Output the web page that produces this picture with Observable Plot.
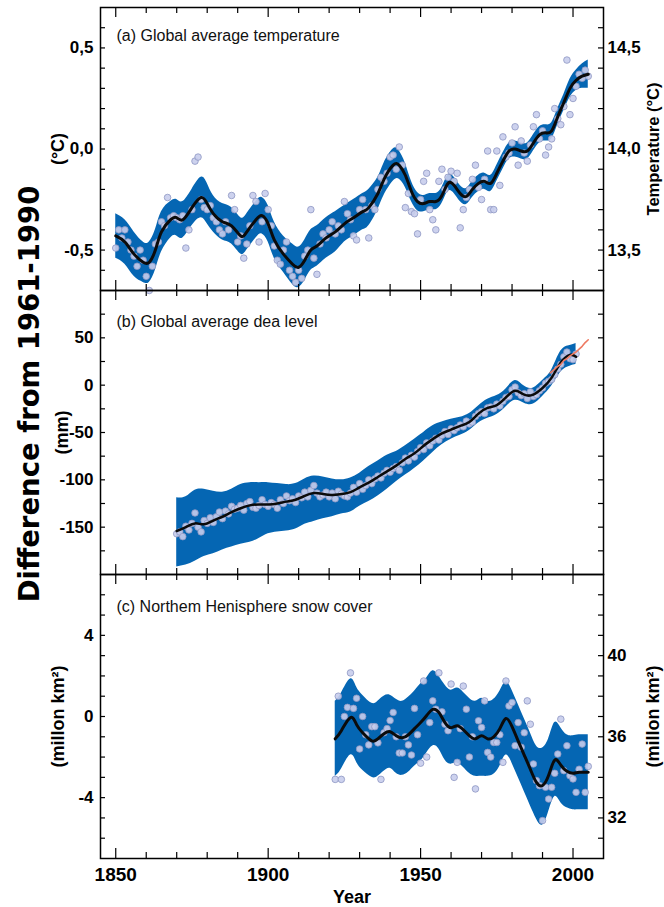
<!DOCTYPE html>
<html>
<head>
<meta charset="utf-8">
<script src="https://cdn.jsdelivr.net/npm/d3@7"></script>
<script src="https://cdn.jsdelivr.net/npm/@observablehq/plot@0.6"></script>
<style>
  html, body { margin: 0; padding: 0; background: #fff; }
  #chart { position: relative; width: 664px; height: 907px; overflow: hidden; }
  .pane { position: absolute; left: 0; }
  #big { position: absolute; left: 29px; top: 394px; transform: translate(-50%, -50%) rotate(-90deg);
         font: bold 27.5px "DejaVu Sans", sans-serif; white-space: nowrap; color: #000; }
</style>
</head>
<body>
<div id="chart">
  <div class="pane" id="pa" style="top:0px"></div>
  <div class="pane" id="pb" style="top:290px"></div>
  <div class="pane" id="pc" style="top:574px"></div>
  <div id="big">Difference from 1961-1990</div>
</div>
<script>
// ---------------- DATA ----------------
const yearTicks = [1850,1860,1870,1880,1890,1900,1910,1920,1930,1940,1950,1960,1970,1980,1990,2000];
const yearMajor = [1850,1900,1950,2000];

// (a) Global average temperature anomaly (°C)
const tempYears = [1850,1851,1852,1853,1854,1855,1856,1857,1858,1859,1860,1861,1862,1863,1864,1865,1866,1867,1868,1869,1870,1871,1872,1873,1874,1875,1876,1877,1878,1879,1880,1881,1882,1883,1884,1885,1886,1887,1888,1889,1890,1891,1892,1893,1894,1895,1896,1897,1898,1899,1900,1901,1902,1903,1904,1905,1906,1907,1908,1909,1910,1911,1912,1913,1914,1915,1916,1917,1918,1919,1920,1921,1922,1923,1924,1925,1926,1927,1928,1929,1930,1931,1932,1933,1934,1935,1936,1937,1938,1939,1940,1941,1942,1943,1944,1945,1946,1947,1948,1949,1950,1951,1952,1953,1954,1955,1956,1957,1958,1959,1960,1961,1962,1963,1964,1965,1966,1967,1968,1969,1970,1971,1972,1973,1974,1975,1976,1977,1978,1979,1980,1981,1982,1983,1984,1985,1986,1987,1988,1989,1990,1991,1992,1993,1994,1995,1996,1997,1998,1999,2000,2001,2002,2003,2004,2005];
const tempValues = [-0.49,-0.40,-0.44,-0.40,-0.46,-0.50,-0.53,-0.58,-0.50,-0.55,-0.63,-0.70,-0.58,-0.47,-0.46,-0.36,-0.38,-0.24,-0.34,-0.33,-0.34,-0.35,-0.33,-0.49,-0.40,-0.30,-0.06,-0.04,-0.25,-0.29,-0.30,-0.28,-0.34,-0.36,-0.40,-0.42,-0.36,-0.40,-0.23,-0.30,-0.46,-0.43,-0.54,-0.47,-0.38,-0.23,-0.26,-0.46,-0.36,-0.22,-0.30,-0.38,-0.48,-0.55,-0.57,-0.50,-0.46,-0.60,-0.63,-0.66,-0.60,-0.64,-0.53,-0.50,-0.30,-0.54,-0.62,-0.47,-0.42,-0.44,-0.40,-0.36,-0.42,-0.38,-0.40,-0.26,-0.32,-0.35,-0.43,-0.45,-0.30,-0.25,-0.30,-0.44,-0.28,-0.30,-0.20,-0.14,-0.16,-0.12,-0.04,-0.03,-0.10,0.01,-0.08,-0.29,-0.22,-0.31,-0.32,-0.42,-0.25,-0.16,-0.12,-0.30,-0.35,-0.40,-0.16,-0.10,-0.20,-0.14,-0.11,-0.16,-0.12,-0.39,-0.30,-0.24,-0.20,-0.15,-0.08,-0.19,-0.25,-0.15,-0.01,-0.30,-0.30,-0.01,-0.18,0.06,-0.04,-0.02,0.03,0.11,-0.08,0.04,-0.02,-0.06,0.02,0.11,0.17,0.05,0.09,-0.03,0.01,0.05,0.20,0.15,0.12,0.21,0.44,0.17,0.25,0.31,0.37,0.35,0.39,0.36];
const tempCurveYears = [1850,1853,1856,1859,1861,1863,1865,1868,1870,1872,1875,1878,1880,1882,1885,1888,1891,1893,1896,1898,1900,1902,1905,1908,1910,1912,1914,1916,1919,1922,1925,1928,1931,1933,1936,1938,1941,1943,1945,1947,1949,1951,1953,1955,1957,1959,1961,1963,1965,1967,1969,1971,1973,1975,1977,1979,1981,1983,1985,1987,1989,1991,1993,1995,1997,1999,2001,2003,2005];
const tempCurve = [-0.43,-0.46,-0.52,-0.56,-0.56,-0.50,-0.41,-0.35,-0.34,-0.35,-0.29,-0.24,-0.27,-0.32,-0.36,-0.38,-0.43,-0.41,-0.35,-0.33,-0.37,-0.45,-0.52,-0.57,-0.585,-0.55,-0.50,-0.48,-0.44,-0.41,-0.37,-0.34,-0.31,-0.29,-0.22,-0.15,-0.08,-0.08,-0.13,-0.21,-0.26,-0.27,-0.26,-0.26,-0.23,-0.17,-0.18,-0.22,-0.235,-0.20,-0.17,-0.16,-0.17,-0.12,-0.06,-0.01,0.00,-0.01,-0.01,0.03,0.07,0.08,0.09,0.16,0.23,0.30,0.34,0.36,0.37];
const tempHalfWidth = [0.11,0.11,0.11,0.10,0.10,0.10,0.10,0.09,0.09,0.09,0.09,0.10,0.10,0.09,0.09,0.09,0.09,0.09,0.09,0.09,0.09,0.09,0.09,0.10,0.10,0.10,0.10,0.10,0.10,0.10,0.09,0.09,0.09,0.09,0.08,0.08,0.08,0.07,0.06,0.05,0.045,0.04,0.04,0.04,0.04,0.04,0.04,0.04,0.04,0.04,0.04,0.04,0.04,0.04,0.04,0.04,0.04,0.04,0.04,0.04,0.04,0.04,0.04,0.04,0.04,0.045,0.05,0.06,0.07];
const tempTicks = [-0.6,-0.5,-0.4,-0.3,-0.2,-0.1,0,0.1,0.2,0.3,0.4,0.5,0.6];
const tempLabels = [-0.5,0,0.5];
const tempAbsLabels = [13.5,14.0,14.5];
const tempOffset = 14;

// (b) Global average sea level (mm)
const seaYears = [1870,1871,1872,1873,1874,1875,1876,1877,1878,1879,1880,1881,1882,1883,1884,1885,1886,1887,1888,1889,1890,1891,1892,1893,1894,1895,1896,1897,1898,1899,1900,1901,1902,1903,1904,1905,1906,1907,1908,1909,1910,1911,1912,1913,1914,1915,1916,1917,1918,1919,1920,1921,1922,1923,1924,1925,1926,1927,1928,1929,1930,1931,1932,1933,1934,1935,1936,1937,1938,1939,1940,1941,1942,1943,1944,1945,1946,1947,1948,1949,1950,1951,1952,1953,1954,1955,1956,1957,1958,1959,1960,1961,1962,1963,1964,1965,1966,1967,1968,1969,1970,1971,1972,1973,1974,1975,1976,1977,1978,1979,1980,1981,1982,1983,1984,1985,1986,1987,1988,1989,1990,1991,1992,1993,1994,1995,1996,1997,1998,1999,2000,2001];
const seaValues = [-157,-155,-160,-149,-153,-146,-135,-150,-155,-143,-146,-140,-145,-139,-134,-141,-133,-136,-128,-131,-130,-127,-132,-125,-123,-129,-130,-127,-121,-126,-128,-124,-126,-130,-121,-125,-117,-122,-120,-124,-117,-119,-113,-118,-111,-106,-114,-118,-116,-113,-118,-114,-120,-112,-115,-117,-118,-114,-108,-113,-104,-110,-106,-100,-104,-99,-96,-98,-93,-90,-92,-88,-86,-90,-82,-77,-80,-74,-76,-70,-66,-68,-61,-64,-59,-56,-58,-53,-49,-52,-46,-48,-45,-42,-44,-38,-41,-39,-33,-30,-28,-30,-24,-23,-25,-20,-22,-17,-13,-12,-5,-2,-8,-11,-9,-14,-7,-12,-10,-6,-3,2,4,6,11,17,22,30,35,28,27,33];
const seaCurveYears = [1870,1873,1876,1879,1882,1885,1888,1891,1894,1897,1900,1903,1906,1909,1912,1915,1918,1921,1924,1927,1930,1933,1936,1939,1942,1945,1948,1951,1954,1957,1960,1963,1966,1969,1972,1975,1978,1981,1984,1987,1990,1993,1996,1999,2001];
const seaCurve = [-154,-150,-146,-147,-143,-139,-134,-130,-127,-126,-126,-125,-123,-121,-117,-114,-115,-116,-115,-113,-108,-103,-97,-91,-85,-78,-72,-64,-57,-51,-47,-43,-39,-30,-24,-21,-13,-6,-10,-10,-3,8,24,32,30];
const seaLow = [-192,-190,-186,-181,-178,-174,-171,-168,-166,-162,-157,-155,-154,-152,-147,-144,-141,-139,-136,-134,-128,-123,-117,-110,-102,-95,-88,-80,-71,-63,-57,-53,-48,-40,-35,-31,-23,-16,-19,-20,-12,-1,14,20,22];
const seaHigh = [-119,-118,-111,-110,-112,-113,-110,-105,-103,-103,-103,-104,-105,-104,-99,-96,-97,-99,-100,-98,-93,-86,-80,-74,-70,-64,-57,-50,-43,-39,-36,-34,-30,-22,-15,-11,-4,5,-1,-3,5,16,36,42,44];
const satYears = [1992.5,1994,1995,1996,1997,1998,1999,2000,2001,2002,2003,2004,2005];
const satValues = [13,17,20,22,26,28,31,33,35,38,41,45,48];
const seaTicks = [-175,-150,-125,-100,-75,-50,-25,0,25,50,75];
const seaLabels = [-150,-100,-50,0,50];

// (c) Northern Hemisphere snow cover (million km²)
const snowYears = [1922,1923,1924,1925,1926,1927,1928,1929,1930,1931,1932,1933,1934,1935,1936,1937,1938,1939,1940,1941,1942,1943,1944,1945,1946,1947,1948,1949,1950,1951,1952,1953,1954,1955,1956,1957,1958,1959,1960,1961,1962,1963,1964,1965,1966,1967,1968,1969,1970,1971,1972,1973,1974,1975,1976,1977,1978,1979,1980,1981,1982,1983,1984,1985,1986,1987,1988,1989,1990,1991,1992,1993,1994,1995,1996,1997,1998,1999,2000,2001,2002,2003,2004,2005];
const snowValues = [-3.1,1.0,-3.1,0.0,0.45,2.15,0.4,0.9,-1.6,0.0,-0.9,-1.4,-0.5,-0.5,-1.3,-3.1,-0.8,-0.6,-0.2,0.2,-1.0,-1.8,-1.8,-1.0,-1.4,-1.9,0.4,-0.9,-2.3,1.75,-2.0,-0.3,0.77,0.36,2.15,0.23,-0.38,-0.7,1.6,-3.0,-2.26,-0.6,1.5,0.36,-2.0,-1.0,-3.57,-0.21,-0.54,0.77,-1.77,-2.0,-1.28,-1.28,-0.9,-2.26,1.75,0.52,0.69,-1.44,-0.3,-1.52,-0.8,0.77,-0.38,-2.34,-3.16,-3.41,-5.13,-3.49,-4.07,-3.49,-2.8,-1.85,-0.13,-2.67,-1.44,-2.92,-3.08,-3.74,-2.6,-1.36,-3.74,-2.46];
const snowCurveYears = [1922,1924,1927,1929,1931,1934,1936,1938,1940,1942,1944,1946,1948,1950,1952,1954,1956,1958,1960,1962,1964,1966,1968,1970,1972,1974,1976,1978,1980,1982,1984,1986,1988,1990,1992,1994,1996,1998,2000,2002,2005];
const snowCurve = [-1.1,-0.7,-0.05,-0.4,-0.8,-1.2,-1.1,-0.85,-0.75,-0.95,-1.05,-0.9,-0.6,-0.3,0.05,0.35,0.2,-0.3,-0.55,-0.45,-0.65,-0.95,-1.1,-0.95,-1.1,-1.0,-0.6,-0.1,-0.5,-1.2,-1.9,-2.6,-3.25,-3.4,-2.9,-2.15,-2.4,-2.7,-2.8,-2.75,-2.75];
const snowLow = [-2.95,-2.6,-1.9,-2.25,-2.65,-3.0,-2.95,-2.7,-2.55,-2.8,-2.9,-2.75,-2.45,-2.2,-1.8,-1.45,-1.6,-2.15,-2.35,-2.3,-2.5,-2.8,-2.95,-2.95,-2.95,-2.85,-2.45,-1.9,-2.3,-3.0,-3.7,-4.4,-5.05,-5.35,-4.7,-3.95,-4.25,-4.5,-4.6,-4.6,-4.6];
const snowHigh = [0.75,1.15,1.85,1.45,1.05,0.65,0.75,1.0,1.05,0.85,0.75,0.95,1.25,1.6,1.9,2.25,2.0,1.55,1.3,1.4,1.2,0.9,0.75,0.9,0.75,0.85,1.25,1.7,1.3,0.6,-0.1,-0.8,-1.45,-1.55,-1.1,-0.3,-0.55,-0.9,-0.95,-0.9,-0.9];
const snowTicks = [-6,-5,-4,-3,-2,-1,0,1,2,3,4,5,6];
const snowLabels = [-4,0,4];
const snowAbsLabels = [32,36,40];
const snowOffset = 37;

// ---------------- STYLE ----------------
const BLUE = "#0566b3";
const DOT_FILL = "#c8cdec";
const DOT_STROKE = "#8e97c3";
const TICK_FONT = '"Liberation Sans Narrow", "Arial Narrow", "Liberation Sans", sans-serif';
const LABEL_FONT = '"Liberation Sans", Arial, sans-serif';
const W = 664, ML = 100, MR = 61, FW = W - ML - MR;
const comma = d => d.toFixed(1).replace(".", ",");

function frameTicks(fh, yTicks) {
  return [
    Plot.tickX(yearTicks.filter(d => !yearMajor.includes(d)), {x: d => d, insetBottom: fh - 6, stroke: "#000", strokeWidth: 1.2}),
    Plot.tickX(yearMajor, {x: d => d, insetBottom: fh - 10, stroke: "#000", strokeWidth: 1.2}),
    Plot.tickX(yearTicks.filter(d => !yearMajor.includes(d)), {x: d => d, insetTop: fh - 6, stroke: "#000", strokeWidth: 1.2}),
    Plot.tickX(yearMajor, {x: d => d, insetTop: fh - 10, stroke: "#000", strokeWidth: 1.2}),
    Plot.tickY(yTicks, {y: d => d, insetRight: FW - 5, stroke: "#000", strokeWidth: 1.2}),
    Plot.tickY(yTicks, {y: d => d, insetLeft: FW - 5, stroke: "#000", strokeWidth: 1.2}),
    Plot.frame({stroke: "#000", strokeWidth: 1.5})
  ];
}
function title(t, dy) {
  return Plot.text([t], {text: d => d, frameAnchor: "top-left", dx: 16, dy, textAnchor: "start", lineAnchor: "middle",
    fontSize: 16, fontFamily: LABEL_FONT, fill: "#111"});
}
function sideLabel(t, side, dx, size = 18) {
  return Plot.text([t], {text: d => d, frameAnchor: side, dx, rotate: -90, textAnchor: "middle", lineAnchor: "middle",
    fontSize: size, fontWeight: "bold", fontFamily: LABEL_FONT, fill: "#000"});
}
function yLabels(ticks, anchor, fmt) {
  return Plot.axisY({ticks, anchor, tickSize: 0, tickPadding: anchor === "left" ? 7 : 4, tickFormat: fmt,
    fontSize: 17, fontWeight: "bold", fontFamily: TICK_FONT, label: null});
}
const baseStyle = {background: "transparent", overflow: "visible", fontFamily: TICK_FONT, color: "#000"};

// ---------------- PANEL A ----------------
const tempPts = tempYears.map((year, i) => ({year, value: tempValues[i]}));
const tempBand = tempCurveYears.map((year, i) => ({year, mid: tempCurve[i], lo: tempCurve[i] - tempHalfWidth[i], hi: tempCurve[i] + tempHalfWidth[i]}));
const HA = 290, MTA = 7;
const pa = Plot.plot({
  width: W, height: HA, marginTop: MTA, marginBottom: 0, marginLeft: ML, marginRight: MR,
  x: {domain: [1845, 2010], axis: null},
  y: {domain: [-0.7, 0.7]},
  style: baseStyle,
  marks: [
    Plot.areaY(tempBand, {x: "year", y1: "lo", y2: "hi", fill: BLUE, curve: "natural"}),
    Plot.dot(tempPts, {x: "year", y: "value", r: 3.3, fill: DOT_FILL, stroke: DOT_STROKE, strokeWidth: 0.8, fillOpacity: 0.9}),
    Plot.line(tempBand, {x: "year", y: "mid", stroke: "#0b0b0b", strokeWidth: 3, curve: "natural"}),
    ...frameTicks(HA - MTA, tempTicks),
    yLabels(tempLabels, "left", comma),
    yLabels(tempAbsLabels.map(v => v - tempOffset), "right", d => comma(d + tempOffset)),
    title("(a) Global average temperature", 28),
    sideLabel("(°C)", "left", -42),
    sideLabel("Temperature (°C)", "right", 50, 16.5)
  ]
});
document.getElementById("pa").appendChild(pa);

// ---------------- PANEL B ----------------
const seaPts = seaYears.map((year, i) => ({year, value: seaValues[i]}));
const seaBand = seaCurveYears.map((year, i) => ({year, mid: seaCurve[i], lo: seaLow[i], hi: seaHigh[i]}));
const satPts = satYears.map((year, i) => ({year, value: satValues[i]}));
const HB = 284;
const pb = Plot.plot({
  width: W, height: HB, marginTop: 0, marginBottom: 0, marginLeft: ML, marginRight: MR,
  x: {domain: [1845, 2010], axis: null},
  y: {domain: [-200, 100]},
  style: baseStyle,
  marks: [
    Plot.areaY(seaBand, {x: "year", y1: "lo", y2: "hi", fill: BLUE, curve: "natural"}),
    Plot.dot(seaPts, {x: "year", y: "value", r: 3.3, fill: DOT_FILL, stroke: DOT_STROKE, strokeWidth: 0.8, fillOpacity: 0.9}),
    Plot.line(seaBand, {x: "year", y: "mid", stroke: "#0b0b0b", strokeWidth: 2.5, curve: "natural"}),
    Plot.line(satPts, {x: "year", y: "value", stroke: "#ee7a62", strokeWidth: 1.6, curve: "linear"}),
    ...frameTicks(HB, seaTicks),
    yLabels(seaLabels, "left", d => String(d)),
    title("(b) Global average dea level", 31),
    sideLabel("(mm)", "left", -38)
  ]
});
document.getElementById("pb").appendChild(pb);

// ---------------- PANEL C ----------------
const snowPts = snowYears.map((year, i) => ({year, value: snowValues[i]}));
const snowBand = snowCurveYears.map((year, i) => ({year, mid: snowCurve[i], lo: snowLow[i], hi: snowHigh[i]}));
const HC = 333, MBC = 49;
const pc = Plot.plot({
  width: W, height: HC, marginTop: 0, marginBottom: MBC, marginLeft: ML, marginRight: MR,
  x: {domain: [1845, 2010]},
  y: {domain: [-7, 7]},
  style: baseStyle,
  marks: [
    Plot.areaY(snowBand, {x: "year", y1: "lo", y2: "hi", fill: BLUE, curve: "natural"}),
    Plot.dot(snowPts, {x: "year", y: "value", r: 3.3, fill: DOT_FILL, stroke: DOT_STROKE, strokeWidth: 0.8, fillOpacity: 0.9}),
    Plot.line(snowBand, {x: "year", y: "mid", stroke: "#0b0b0b", strokeWidth: 3, curve: "natural"}),
    ...frameTicks(HC - MBC, snowTicks),
    yLabels(snowLabels, "left", d => String(d)),
    yLabels(snowAbsLabels.map(v => v - snowOffset), "right", d => String(d + snowOffset)),
    Plot.axisX({ticks: yearMajor, anchor: "bottom", tickSize: 0, tickPadding: 9, tickFormat: d => String(d),
      fontSize: 19, fontWeight: "bold", fontFamily: TICK_FONT, label: null}),
    Plot.text(["Year"], {text: d => d, frameAnchor: "bottom", dy: 39, lineAnchor: "middle", fontSize: 18, fontWeight: "bold", fontFamily: TICK_FONT}),
    title("(c) Northem Henisphere snow cover", 32),
    sideLabel("(millon km²)", "left", -42),
    sideLabel("(millon km²)", "right", 50)
  ]
});
document.getElementById("pc").appendChild(pc);
</script>
</body>
</html>
